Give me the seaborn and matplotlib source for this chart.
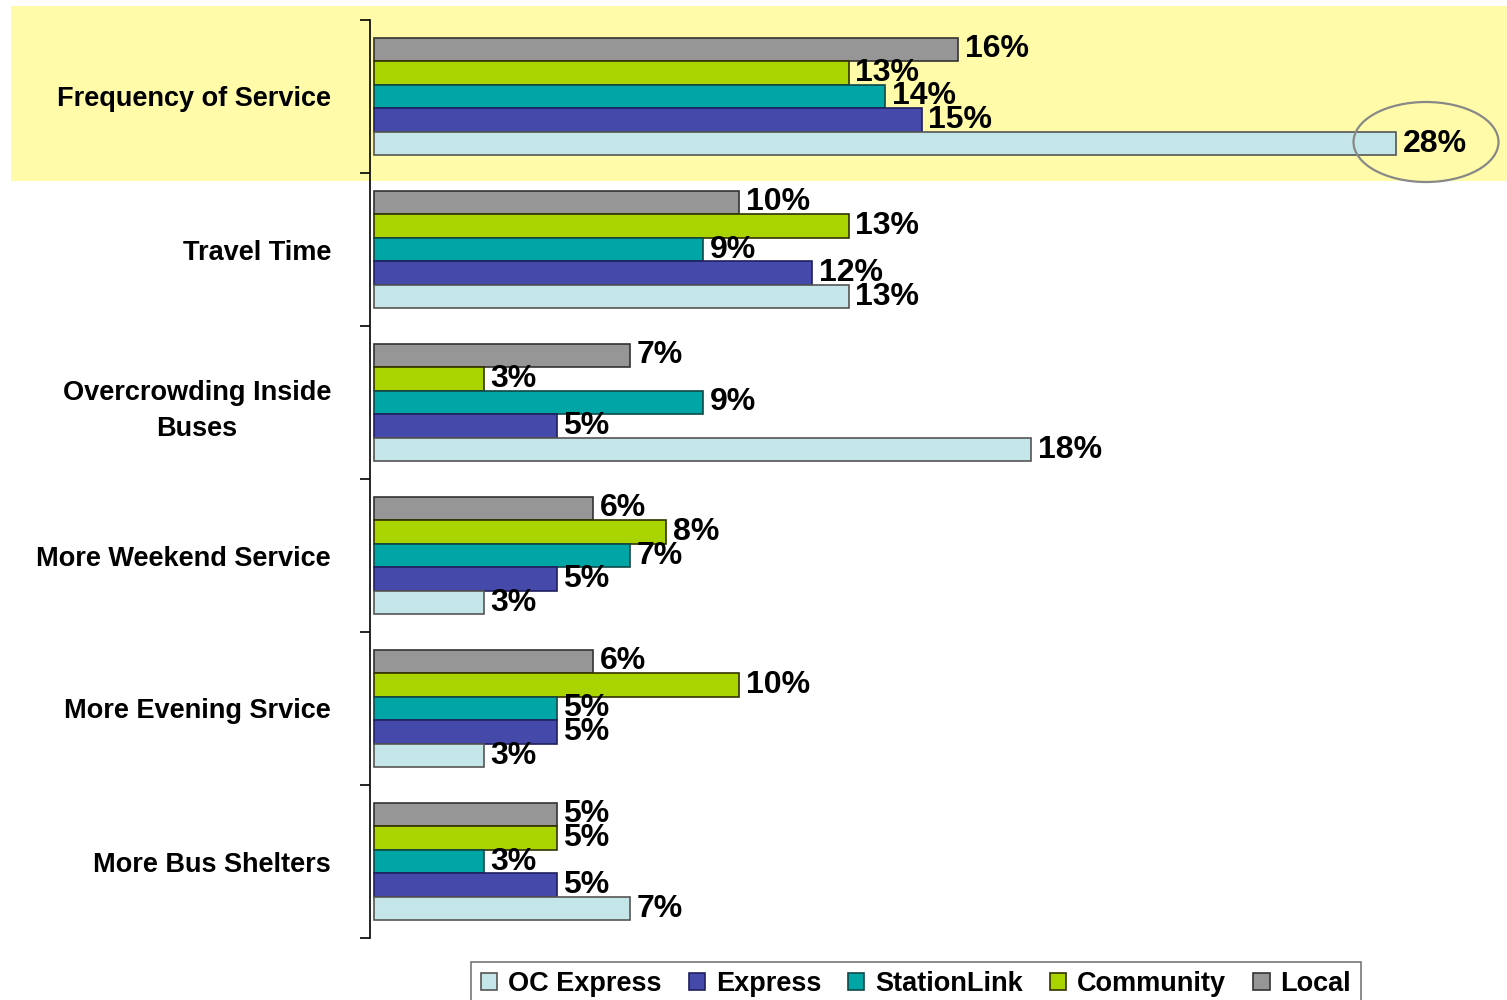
import matplotlib
matplotlib.use("Agg")
import matplotlib.pyplot as plt
from matplotlib.patches import Rectangle, Ellipse
import seaborn as sns
import pandas as pd

categories = ["Frequency of Service", "Travel Time", "Overcrowding Inside\nBuses",
              "More Weekend Service", "More Evening Srvice", "More Bus Shelters"]
series = ["OC Express", "Express", "StationLink", "Community", "Local"]
oc_express = [28, 13, 18, 3, 3, 7]
express = [15, 12, 5, 5, 5, 5]
stationlink = [14, 9, 9, 7, 5, 3]
community = [13, 13, 3, 8, 10, 5]
local = [16, 10, 7, 6, 6, 5]
colors = {"OC Express": "#C4E6E8", "Express": "#4549A9", "StationLink": "#00A6A6",
          "Community": "#AAD400", "Local": "#969696"}
edges = {"OC Express": "#555555", "Express": "#202060", "StationLink": "#104848",
         "Community": "#333300", "Local": "#333333"}

values = {"OC Express": oc_express, "Express": express, "StationLink": stationlink,
          "Community": community, "Local": local}
rows = []
for s in series:
    for c, v in zip(categories, values[s]):
        rows.append({"Category": c, "Series": s, "Value": v})
df = pd.DataFrame(rows)

sns.set_theme(style="white")
plt.rcParams["font.family"] = ["Liberation Sans", "DejaVu Sans"]
plt.rcParams["text.color"] = "black"

W, H = 1507, 1000
fig = plt.figure(figsize=(W / 100, H / 100), dpi=100)
fig.patch.set_facecolor("white")

left_px, right_px, top_px, bot_px = 370, 1507, 20, 938
ax = fig.add_axes([left_px / W, 1 - bot_px / H, (right_px - left_px) / W, (bot_px - top_px) / H])
ax.set_facecolor("none")
ax.set_zorder(2)

# highlight band (behind the axes)
bg = fig.add_axes([0, 0, 1, 1], zorder=0)
bg.set_axis_off()
bg.set_xlim(0, W)
bg.set_ylim(H, 0)
bg.add_patch(Rectangle((11, 6), W - 11, 175, facecolor="#FFFBA8", edgecolor="none"))

hue_order = ["Local", "Community", "StationLink", "Express", "OC Express"]
sns.barplot(data=df, y="Category", x="Value", hue="Series", order=categories,
            hue_order=hue_order, palette=colors, orient="h", width=0.77,
            ax=ax, legend=False, saturation=1)

for cont, s in zip(ax.containers, hue_order):
    for p in cont:
        p.set_edgecolor(edges[s])
        p.set_linewidth(1.2)
    ax.bar_label(cont, labels=[f"{int(v)}%" for v in cont.datavalues], padding=5,
                 fontsize=23, fontweight="bold", color="black")

px_per = 36.5
ax.set_xlim(-4 / px_per, (right_px - 374) / px_per)
ax.set_ylim(5.5, -0.5)
ax.set_xlabel("")
ax.set_ylabel("")
ax.set_xticks([])
for sp in ["top", "right", "bottom"]:
    ax.spines[sp].set_visible(False)
ax.spines["left"].set_color("black")
ax.spines["left"].set_linewidth(1.2)
ax.set_yticks(range(len(categories)))
ax.set_yticklabels(categories, fontsize=19.5, fontweight="bold", multialignment="center",
                   color="black", linespacing=1.55)
ax.tick_params(axis="y", which="major", length=0, pad=28, left=False)
ax.set_yticks([i - 0.5 for i in range(len(categories) + 1)], minor=True)
ax.tick_params(axis="y", which="minor", left=True, length=7, width=1.2,
               color="black", direction="out")

# ellipse around 28%
ell_ax = fig.add_axes([0, 0, 1, 1], zorder=3)
ell_ax.set_axis_off()
ell_ax.set_xlim(0, W)
ell_ax.set_ylim(H, 0)
ell_ax.add_patch(Ellipse((1426, 142), 145, 80, facecolor="none",
                         edgecolor="#888888", linewidth=1.6))

# legend
handles = [Rectangle((0, 0), 1, 1, facecolor=colors[s], edgecolor=edges[s], linewidth=1.2)
           for s in series]
leg = fig.legend(handles, series, loc="lower center", bbox_to_anchor=(916 / W, -0.02),
                 ncol=5, frameon=True, fancybox=False, edgecolor="#555555",
                 prop={"family": "Liberation Sans", "weight": "bold", "size": 19.5},
                 handlelength=0.6, handleheight=0.6, handletextpad=0.4,
                 columnspacing=1.0, borderpad=0.35, labelcolor="black")
leg.get_frame().set_linewidth(1.2)

fig.savefig("out.png", dpi=100)
